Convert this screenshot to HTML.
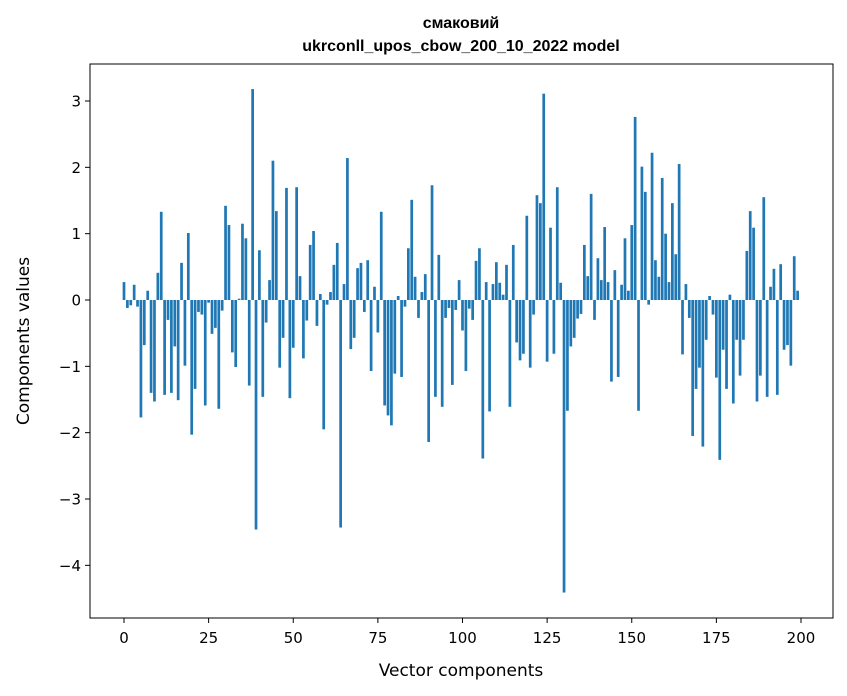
<!DOCTYPE html>
<html><head><meta charset="utf-8"><style>
html,body{margin:0;padding:0;background:#fff;}
svg{display:block;font-family:"DejaVu Sans","Liberation Sans",sans-serif;}
</style></head><body>
<svg id="chart" width="847" height="696" viewBox="0 0 847 696">
<rect width="847" height="696" fill="#fff"/>
<text x="461" y="28" text-anchor="middle" font-size="16" font-weight="bold" font-family="Liberation Sans, sans-serif">смаковий</text>
<text x="461" y="51" text-anchor="middle" font-size="16" font-weight="bold" font-family="Liberation Sans, sans-serif">ukrconll_upos_cbow_200_10_2022 model</text>
<g id="bars"></g>
<g id="xaxis"></g>
<g id="yaxis"></g>
<rect x="90" y="64" width="743" height="554" fill="none" stroke="#000" stroke-width="1"/>
<text x="461" y="676" text-anchor="middle" font-size="17">Vector components</text>
<text transform="translate(29,341) rotate(-90)" text-anchor="middle" font-size="17">Components values</text>
</svg>
<script>
const values = [
0.27,-0.12,-0.08,0.23,-0.10,-1.77,-0.68,0.14,-1.40,-1.53,
0.41,1.33,-1.43,-0.30,-1.40,-0.70,-1.51,0.56,-0.99,1.01,
-2.03,-1.34,-0.18,-0.22,-1.59,-0.04,-0.51,-0.42,-1.64,-0.16,
1.42,1.13,-0.79,-1.01,0.02,1.15,0.93,-1.29,3.18,-3.46,
0.75,-1.46,-0.34,0.30,2.10,1.34,-1.02,-0.57,1.69,-1.48,
-0.72,1.70,0.36,-0.88,-0.31,0.83,1.04,-0.39,0.09,-1.95,
-0.07,0.12,0.53,0.86,-3.43,0.24,2.14,-0.74,-0.57,0.48,
0.56,-0.18,0.60,-1.07,0.20,-0.49,1.33,-1.59,-1.74,-1.89,
-1.11,0.06,-1.16,-0.10,0.78,1.51,0.35,-0.27,0.12,0.39,
-2.14,1.73,-1.46,0.68,-1.61,-0.27,-0.12,-1.28,-0.15,0.30,
-0.46,-1.07,-0.13,-0.30,0.59,0.78,-2.39,0.27,-1.68,0.24,
0.57,0.26,0.08,0.53,-1.61,0.83,-0.64,-0.91,-0.81,1.27,
-1.02,-0.22,1.58,1.46,3.11,-0.93,1.09,-0.81,1.70,0.26,
-4.41,-1.67,-0.70,-0.57,-0.28,-0.21,0.83,0.36,1.60,-0.30,
0.63,0.30,1.10,0.27,-1.23,0.45,-1.16,0.23,0.93,0.14,
1.13,2.76,-1.67,2.01,1.63,-0.07,2.22,0.60,0.35,1.84,
1.00,0.27,1.46,0.69,2.05,-0.82,0.24,-0.27,-2.05,-1.34,
-1.02,-2.21,-0.60,0.06,-0.22,-1.17,-2.41,-0.75,-1.34,0.08,
-1.56,-0.60,-1.14,-0.60,0.74,1.34,1.09,-1.53,-1.14,1.55,
-1.46,0.20,0.47,-1.43,0.54,-0.75,-0.68,-0.99,0.66,0.14
];
const xTicks = [0,25,50,75,100,125,150,175,200];
const yTicks = [-4,-3,-2,-1,0,1,2,3];
const yTickLabels = ["\u22124","\u22123","\u22122","\u22121","0","1","2","3"];

const NS = "http://www.w3.org/2000/svg";
const X0 = 124, XPU = (801-124)/200;
const Y0 = 300, YPU = (300-101)/3;
const xs = v => X0 + v*XPU;
const ys = v => Y0 - v*YPU;

const barsG = document.getElementById('bars');
values.forEach((v,i)=>{
  const r = document.createElementNS(NS,'rect');
  const w = 0.8*XPU;
  r.setAttribute('x', xs(i)-w/2);
  r.setAttribute('width', w);
  r.setAttribute('y', Math.min(ys(v), ys(0)));
  r.setAttribute('height', Math.abs(ys(v)-ys(0)));
  r.setAttribute('fill', '#1f77b4');
  
  
  barsG.appendChild(r);
});

const xg = document.getElementById('xaxis');
xTicks.forEach(t=>{
  const l = document.createElementNS(NS,'line');
  l.setAttribute('x1', xs(t)); l.setAttribute('x2', xs(t));
  l.setAttribute('y1', 618); l.setAttribute('y2', 623);
  l.setAttribute('stroke', '#000');
  
  
  xg.appendChild(l);
  const tx = document.createElementNS(NS,'text');
  tx.setAttribute('x', xs(t)); tx.setAttribute('y', 643);
  tx.setAttribute('text-anchor','middle'); tx.setAttribute('font-size','15');
  tx.textContent = String(t);
  
  
  xg.appendChild(tx);
});

const yg = document.getElementById('yaxis');
yTicks.forEach((t,i)=>{
  const l = document.createElementNS(NS,'line');
  l.setAttribute('x1', 85); l.setAttribute('x2', 90);
  l.setAttribute('y1', ys(t)); l.setAttribute('y2', ys(t));
  l.setAttribute('stroke', '#000');
  
  
  yg.appendChild(l);
  const tx = document.createElementNS(NS,'text');
  tx.setAttribute('x', 81); tx.setAttribute('y', ys(t)+5.5);
  tx.setAttribute('text-anchor','end'); tx.setAttribute('font-size','15');
  tx.textContent = yTickLabels[i];
  
  
  yg.appendChild(tx);
});
</script>
</body></html>
